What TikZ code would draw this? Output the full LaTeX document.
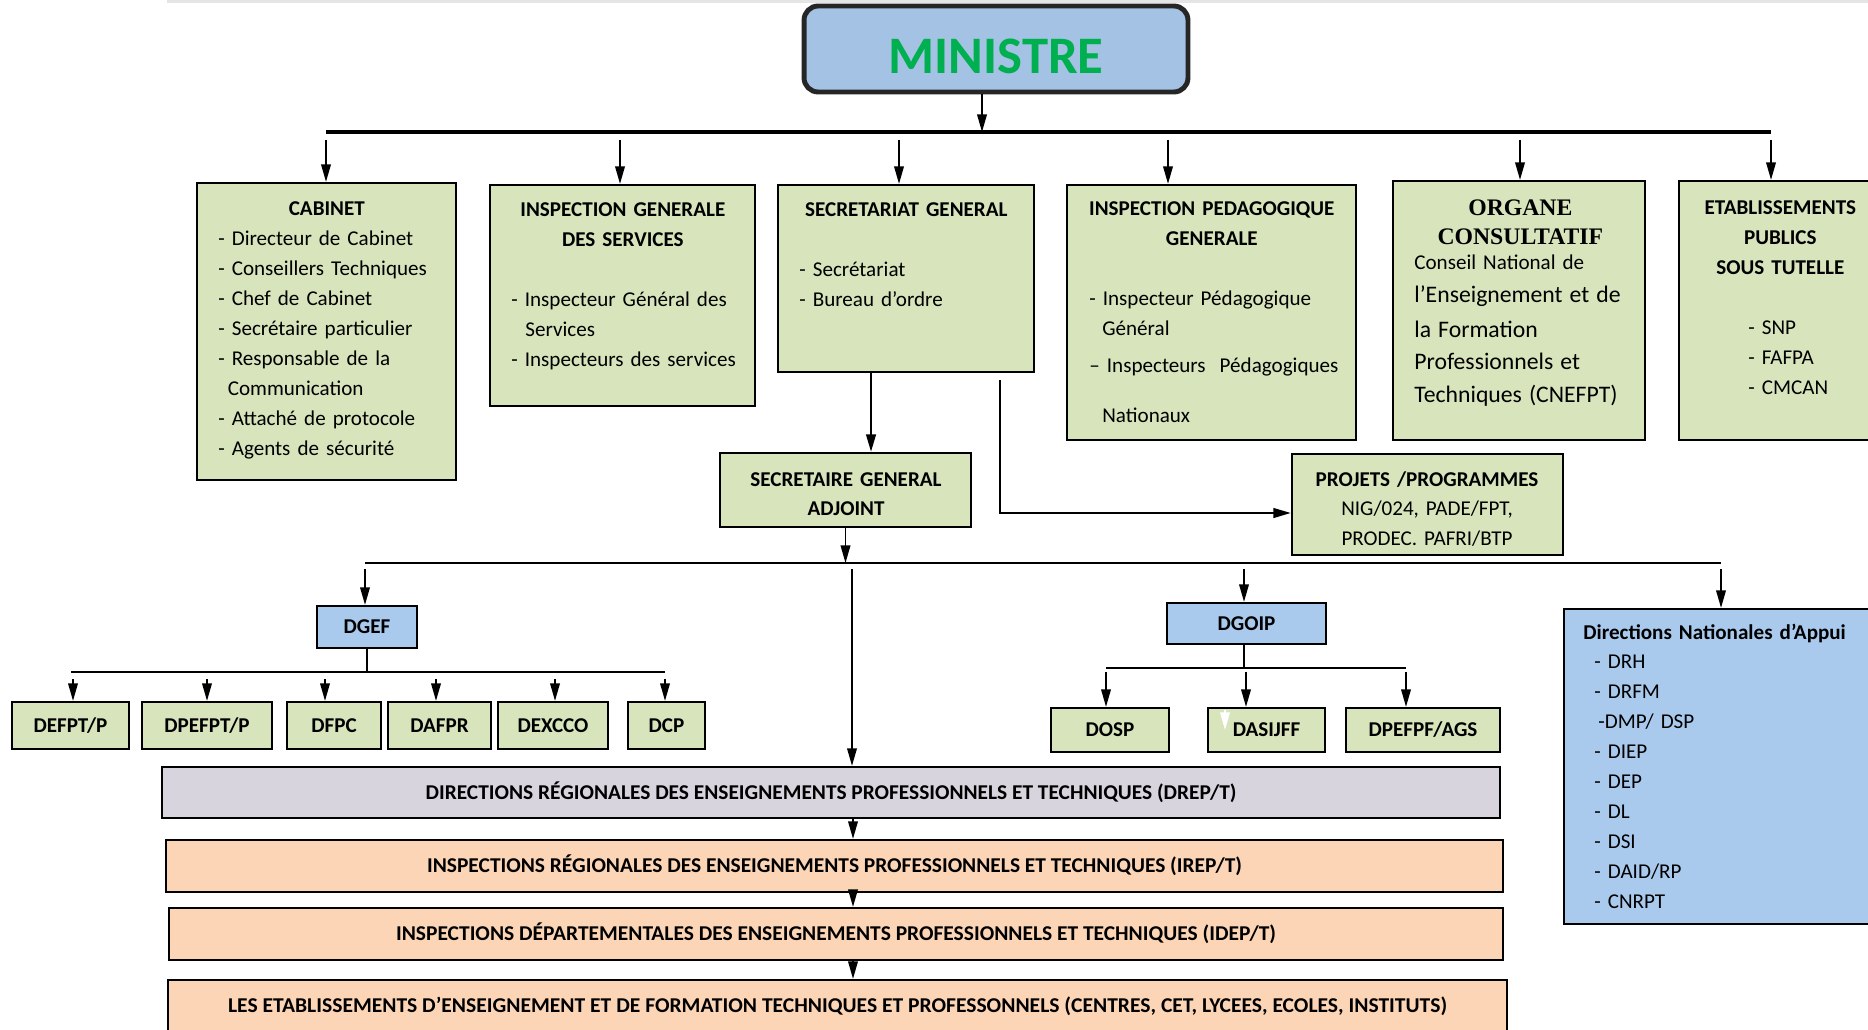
\documentclass[tikz,border=0pt]{standalone}
\usepackage{fontspec}
\setmainfont{Carlito}
\newfontfamily\serieux{Liberation Serif}
\usepackage{graphicx}
\usetikzlibrary{arrows.meta}

\definecolor{vert}{RGB}{216,228,188}
\definecolor{bleu}{RGB}{169,202,237}
\definecolor{bleumin}{RGB}{164,194,227}
\definecolor{gris}{RGB}{216,212,221}
\definecolor{peche}{RGB}{251,213,181}
\definecolor{vertmin}{RGB}{0,176,80}

\tikzset{
  >={Triangle[length=10pt,width=5.5pt]},
  boite/.style={draw, line width=1.3pt, inner sep=0pt, text height=7.7pt, text depth=0pt,
    font=\bfseries\fontsize{12}{17.07}\selectfont},
  verte/.style={boite, fill=vert},
  bleue/.style={boite, fill=bleu},
  petite/.style={verte, minimum height=9.4mm},
  bande/.style={boite, minimum height=10.4mm},
  texte/.style={inner sep=0pt, font=\fontsize{12}{17.07}\selectfont, align=left, text width=80mm},
  fleche/.style={->, line width=0.9pt},
  barre/.style={line width=1.8pt},
}

\begin{document}
\begin{tikzpicture}[x=0.02cm, y=-0.02cm]
\useasboundingbox (0,0) rectangle (1868,1030);
\clip (0,0) rectangle (1868,1030);
\fill[black!10] (167,0) rectangle (1868,3);

% ministre
\node[boite, draw=black!85, line width=2.8pt, rounded corners=8pt, fill=bleumin,
  minimum width=76.8mm, minimum height=17.2mm, text=vertmin,
  text height=28.4pt, font=\bfseries\fontsize{30}{30}\selectfont] (min) at (996,49) {MINISTRE};
\coordinate (m) at (982,132);
\coordinate (b1g) at (326,132);
\coordinate (b1d) at (1771,132);
\draw[fleche] (min.south -| m) -- (m);
\draw[barre] (b1g) -- (b1d);

% premier niveau
\node[verte, minimum width=51.8mm, minimum height=59.4mm] (cab) at (326.5,331.5) {};
\node[verte, minimum width=53mm, minimum height=44.2mm] (igs) at (622.5,295.5) {};
\node[verte, minimum width=51.2mm, minimum height=37.4mm] (sg) at (906,278.5) {};
\node[verte, minimum width=57.8mm, minimum height=51mm] (ipg) at (1211.5,312.5) {};
\node[verte, minimum width=50.4mm, minimum height=51.8mm] (org) at (1519,310.5) {};
\node[verte, minimum width=41.2mm, minimum height=51.8mm] (etab) at (1782,310.5) {};

\coordinate (f1) at (326,140);
\coordinate (f2) at (620,140);
\coordinate (f3) at (899,140);
\coordinate (f4) at (1168,140);
\coordinate (f5) at (1520,140);
\coordinate (f6) at (1771,140);
\draw[fleche] (f1) -- (f1 |- cab.north);
\draw[fleche] (f2) -- (f2 |- igs.north);
\draw[fleche] (f3) -- (f3 |- sg.north);
\draw[fleche] (f4) -- (f4 |- ipg.north);
\draw[fleche] (f5) -- (f5 |- org.north);
\draw[fleche] (f6) -- (f6 |- etab.north);

\node[texte, anchor=base west] (cab-t) at (218,216) {%
\makebox[43.4mm]{\bfseries CABINET}\\
- Directeur de Cabinet\\
- Conseillers Techniques\\
- Chef de Cabinet\\
- Secrétaire particulier\\
- Responsable de la\\
\hspace*{1.9mm}Communication\\
- Attaché de protocole\\
- Agents de sécurité};

\node[texte, anchor=base west] (igs-t) at (511,217) {%
\makebox[44.6mm]{\bfseries INSPECTION GENERALE}\\
\makebox[44.6mm]{\bfseries DES SERVICES}\\[17.07pt]
- Inspecteur Général des\\
\hspace*{2.8mm}Services\\
- Inspecteurs des services};

\node[texte, anchor=base west] (sg-t) at (799,217) {%
\makebox[42.8mm]{\bfseries SECRETARIAT GENERAL}\\[17.07pt]
- Secrétariat\\
- Bureau d’ordre};

\node[texte, anchor=base west] (ipg-t) at (1089,216) {%
\makebox[49mm]{\bfseries INSPECTION PEDAGOGIQUE}\\
\makebox[49mm]{\bfseries GENERALE}\\[17.07pt]
- Inspecteur Pédagogique\\
\hspace*{2.6mm}Général\\[4pt]
– Inspecteurs\ \ Pédagogiques\\[11pt]
\hspace*{2.6mm}Nationaux};

\node[texte, anchor=base west] (org-t) at (1414,216) {%
\makebox[42.4mm]{\serieux\bfseries\fontsize{13.5}{16}\selectfont ORGANE}\\[-1.1pt]
\makebox[42.4mm]{\serieux\bfseries\fontsize{13.5}{16}\selectfont CONSULTATIF}\\[-2.8pt]
Conseil National de\\[1.7pt]
\fontsize{13.5}{17.07}\selectfont
l’Enseignement et de\\[2.8pt]
la Formation\\[1.7pt]
Professionnels et\\[1.7pt]
Techniques (CNEFPT)};

\node[texte, anchor=base west] (etab-t) at (1680,215) {%
\makebox[40mm]{\bfseries ETABLISSEMENTS}\\
\makebox[40mm]{\bfseries PUBLICS}\\
\makebox[40mm]{\bfseries SOUS TUTELLE}\\[17.07pt]
\hspace*{13.6mm}- SNP\\
\hspace*{13.6mm}- FAFPA\\
\hspace*{13.6mm}- CMCAN};

% secretaire general adjoint et projets
\node[verte, minimum width=50.2mm, minimum height=14.8mm] (sga) at (845.5,490) {};
\node[verte, minimum width=54.2mm, minimum height=20.2mm] (proj) at (1427.5,504.5) {};
\node[texte, align=center, text width=46mm, anchor=base] (sga-t) at (846,486) {%
\bfseries SECRETAIRE GENERAL\\ ADJOINT};
\node[texte, align=center, text width=52mm, anchor=base] (proj-t) at (1427,486) {%
{\bfseries PROJETS /PROGRAMMES}\\ NIG/024, PADE/FPT,\\ PRODEC. PAFRI/BTP};

\coordinate (sgx) at (871,0);
\coordinate (pp) at (1000,380);
\draw[fleche, line width=1.3pt] (sg.south -| sgx) -- (sga.north -| sgx);
\draw[fleche, line width=1.3pt] (pp) |- ([yshift=-1.7mm]proj.west);

% deuxieme niveau
\coordinate (b2g) at (365,563);
\coordinate (b2d) at (1721,563);
\draw[fleche] (sga.south) -- (sga.south |- b2g);
\draw[barre, line width=1.3pt] (b2g) -- (b2d);

\node[bleue, minimum width=20mm, minimum height=8.4mm] (dgef) at (367,627) {DGEF};
\node[bleue, minimum width=31.8mm, minimum height=8.2mm] (dgoip) at (1246.5,623.5) {DGOIP};
\node[bleue, minimum width=67.2mm, minimum height=63mm] (dna) at (1732,766.5) {};
\node[texte, anchor=base west] (dna-t) at (1583,639) {%
{\bfseries Directions Nationales d’Appui}\\
\hspace*{2.2mm}- DRH\\
\hspace*{2.2mm}- DRFM\\
\hspace*{3mm}-DMP/ DSP\\
\hspace*{2.2mm}- DIEP\\
\hspace*{2.2mm}- DEP\\
\hspace*{2.2mm}- DL\\
\hspace*{2.2mm}- DSI\\
\hspace*{2.2mm}- DAID/RP\\
\hspace*{2.2mm}- CNRPT};

\node[bande, fill=gris, minimum width=267.6mm, minimum height=10.2mm] (drep) at (831,792.5)
  {\resizebox{162.2mm}{\height}{DIRECTIONS RÉGIONALES DES ENSEIGNEMENTS PROFESSIONNELS ET TECHNIQUES (DREP/T)}};
\node[bande, fill=peche, minimum width=267.4mm] (irep) at (834.5,866)
  {\resizebox{163mm}{\height}{INSPECTIONS RÉGIONALES DES ENSEIGNEMENTS PROFESSIONNELS ET TECHNIQUES (IREP/T)}};
\node[bande, fill=peche, minimum width=266.8mm] (idep) at (836,934)
  {\resizebox{176mm}{\height}{INSPECTIONS DÉPARTEMENTALES DES ENSEIGNEMENTS PROFESSIONNELS ET TECHNIQUES (IDEP/T)}};
\node[bande, fill=peche, minimum width=267.8mm] (letab) at (837.5,1006)
  {\resizebox{243.8mm}{\height}{LES ETABLISSEMENTS D’ENSEIGNEMENT ET DE FORMATION TECHNIQUES ET PROFESSONNELS (CENTRES, CET, LYCEES, ECOLES, INSTITUTS)}};

\coordinate (g1) at (365,569);
\coordinate (g2) at (852,569);
\coordinate (g3) at (1244,569);
\coordinate (g4) at (1721,569);
\draw[fleche] (g1) -- (g1 |- dgef.north);
\draw[fleche] (g2) -- (g2 |- drep.north);
\draw[fleche] (g3) -- (g3 |- dgoip.north);
\draw[fleche] (g4) -- (g4 |- dna.north);

% directions de la DGEF
\node[petite, minimum width=23.4mm] (defpt) at (70.5,725.5) {DEFPT/P};
\node[petite, minimum width=26mm] (dpefpt) at (207,725.5) {DPEFPT/P};
\node[petite, minimum width=18.8mm] (dfpc) at (334,725.5) {DFPC};
\node[petite, minimum width=20.6mm] (dafpr) at (439.5,725.5) {DAFPR};
\node[petite, minimum width=22mm] (dexcco) at (553,725.5) {DEXCCO};
\node[petite, minimum width=15.4mm] (dcp) at (666.5,725.5) {DCP};

\coordinate (sg1) at (71,672);
\coordinate (sg2) at (665,672);
\draw[line width=1.1pt] (dgef.south) -- (dgef.south |- sg1);
\draw[line width=1.1pt] (sg1) -- (sg2);
\coordinate (h1) at (73,679);
\coordinate (h2) at (207,679);
\coordinate (h3) at (325,679);
\coordinate (h4) at (436,679);
\coordinate (h5) at (555,679);
\coordinate (h6) at (665,679);
\draw[fleche] (h1) -- (h1 |- defpt.north);
\draw[fleche] (h2) -- (h2 |- dpefpt.north);
\draw[fleche] (h3) -- (h3 |- dfpc.north);
\draw[fleche] (h4) -- (h4 |- dafpr.north);
\draw[fleche] (h5) -- (h5 |- dexcco.north);
\draw[fleche] (h6) -- (h6 |- dcp.north);

% directions de la DGOIP
\node[petite, minimum width=23.6mm, minimum height=8.8mm] (dosp) at (1110,730) {DOSP};
\node[petite, minimum width=23.4mm, minimum height=8.8mm] (dasijff) at (1266.5,730) {DASIJFF};
\node[petite, minimum width=30.8mm, minimum height=8.8mm] (dpefpf) at (1423,730) {DPEFPF/AGS};

\coordinate (so1) at (1106,668);
\coordinate (so2) at (1406,668);
\draw[line width=1.1pt] (dgoip.south -| g3) -- (so1 -| g3);
\draw[line width=1.1pt] (so1) -- (so2);
\coordinate (k1) at (1106,672);
\coordinate (k2) at (1246,672);
\coordinate (k3) at (1406,672);
\draw[fleche] (k1) -- (k1 |- dosp.north);
\draw[fleche] (k2) -- (k2 |- dasijff.north);
\draw[fleche] (k3) -- (k3 |- dpefpf.north);
\coordinate (w) at (1225,710);
\draw[->, white, line width=0.8pt] (w) -- (w |- dasijff.center);

% niveaux deconcentres
\coordinate (ax) at (853,0);
\draw[fleche] (drep.south -| ax) -- (irep.north -| ax);
\draw[fleche] (irep.south -| ax) -- (idep.north -| ax);
\draw[fleche] (idep.south -| ax) -- (letab.north -| ax);

\end{tikzpicture}
\end{document}
